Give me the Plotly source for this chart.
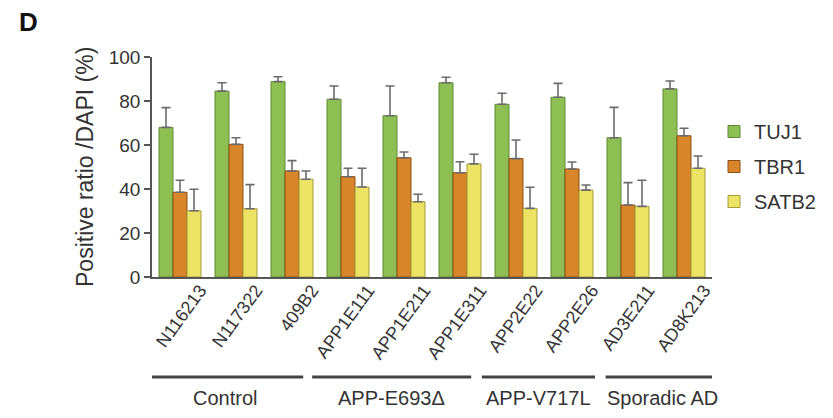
import plotly.graph_objects as go

# ---- data ----
lines_ids = ["N116213", "N117322", "409B2", "APP1E111", "APP1E211", "APP1E311",
             "APP2E22", "APP2E26", "AD3E211", "AD8K213"]
tuj1 = [68, 84.5, 88.8, 80.8, 73.3, 88.3, 78.5, 81.7, 63.3, 85.5]
tuj1_err_top = [77, 88.3, 91, 86.8, 86.8, 90.8, 83.5, 88, 77.1, 89.1]
tbr1 = [38.5, 60.3, 48.2, 45.6, 54.2, 47.4, 53.8, 49.1, 32.7, 64.2]
tbr1_err_top = [44, 63.3, 52.9, 49.4, 56.8, 52.4, 62.3, 52.3, 42.9, 67.6]
satb2 = [30.1, 31, 44.4, 40.9, 34.2, 51.4, 31.2, 39.5, 32.1, 49.4]
satb2_err_top = [39.9, 42, 48.2, 49.4, 37.6, 55.8, 40.8, 41.8, 44, 55]
group_names = ["Control", "APP-E693\u0394", "APP-V717L", "Sporadic AD"]
group_first = [0, 3, 6, 8]
group_last = [2, 5, 7, 9]
y_ticks = [0, 20, 40, 60, 80, 100]

# ---- style ----
FONT = "Liberation Sans, Arial, sans-serif"
TXT = "#333333"
series = [
    ("TUJ1", tuj1, tuj1_err_top, "#8dbf52", "#5f8a35"),
    ("TBR1", tbr1, tbr1_err_top, "#d9852a", "#8a4f15"),
    ("SATB2", satb2, satb2_err_top, "#ece264", "#a59c3a"),
]
# bracket padding (in category units) left/right of each group
pad_left = [0.61, 0.64, 0.61, 0.40]
pad_right = [0.20, 0.20, 0.41, 0.64]

# page has an 8px body margin: plot area is 152..712 x 57..277 in the screenshot
L, T, PW, PH = 144, 49, 560, 220
W, H = 825, 410

x_idx = list(range(len(lines_ids)))

fig = go.Figure()
for name, vals, tops, col, edge in series:
    fig.add_trace(go.Bar(
        x=x_idx, y=vals, name=name,
        marker=dict(color=col, line=dict(color=edge, width=1)),
        error_y=dict(type="data", symmetric=False,
                     array=[t - v for t, v in zip(tops, vals)],
                     arrayminus=[0] * len(vals),
                     color="#6b6b6b", thickness=1.6, width=4.5),
        legendgroup=name,
    ))

shapes = []
annotations = []
for name, a, b, pl, pr in zip(group_names, group_first, group_last, pad_left, pad_right):
    x0, x1 = a - pl, b + pr
    shapes.append(dict(type="line", xref="x", yref="paper",
                       x0=x0, x1=x1, y0=-100 / PH, y1=-100 / PH,
                       line=dict(color="#444444", width=3)))
    annotations.append(dict(x=(x0 + x1) / 2, xref="x", y=-121 / PH, yref="paper",
                            text=name, showarrow=False, xanchor="center", yanchor="middle",
                            font=dict(family=FONT, size=20, color=TXT)))

annotations.append(dict(x=0, xref="paper", xshift=-67, y=0.5, yref="paper",
                        text="Positive ratio /DAPI (%)", textangle=-90, showarrow=False,
                        xanchor="center", yanchor="middle",
                        font=dict(family=FONT, size=23, color=TXT)))
annotations.append(dict(x=(28 - 152) / PW, y=(277 - 22) / PH, xref="paper", yref="paper",
                        text="<b>D</b>", showarrow=False, xanchor="center", yanchor="middle",
                        font=dict(family=FONT, size=26, color="#111111")))

fig.update_layout(
    width=W, height=H,
    margin=dict(l=L, r=W - L - PW, t=T, b=H - T - PH, autoexpand=False),
    paper_bgcolor="white", plot_bgcolor="white",
    barmode="group", bargap=0.25, bargroupgap=0,
    showlegend=True,
    legend=dict(x=1.0 + 2 / PW, xref="paper", y=(277 - 112) / PH, yanchor="top", xanchor="left",
                font=dict(family=FONT, size=20, color=TXT),
                tracegroupgap=6, itemwidth=30, bgcolor="rgba(0,0,0,0)"),
    font=dict(family=FONT, color=TXT),
    shapes=shapes, annotations=annotations,
)
fig.update_xaxes(
    range=[-0.5, 9.5], tickmode="array", tickvals=x_idx, ticktext=lines_ids,
    tickangle=-54, ticklabelshift=20, ticklabelstandoff=-6, ticks="", showgrid=False,
    zeroline=False, showline=True, linecolor="#555555", linewidth=1.5,
    tickfont=dict(family=FONT, size=18, color=TXT),
)
fig.update_yaxes(
    range=[0, 100], tickmode="array", tickvals=y_ticks, ticks="outside", ticklen=6,
    tickcolor="#555555", tickwidth=1.5, showgrid=False, zeroline=False,
    showline=True, linecolor="#555555", linewidth=1.5,
    tickfont=dict(family=FONT, size=19, color=TXT),
)

fig.write_html("out.html")
